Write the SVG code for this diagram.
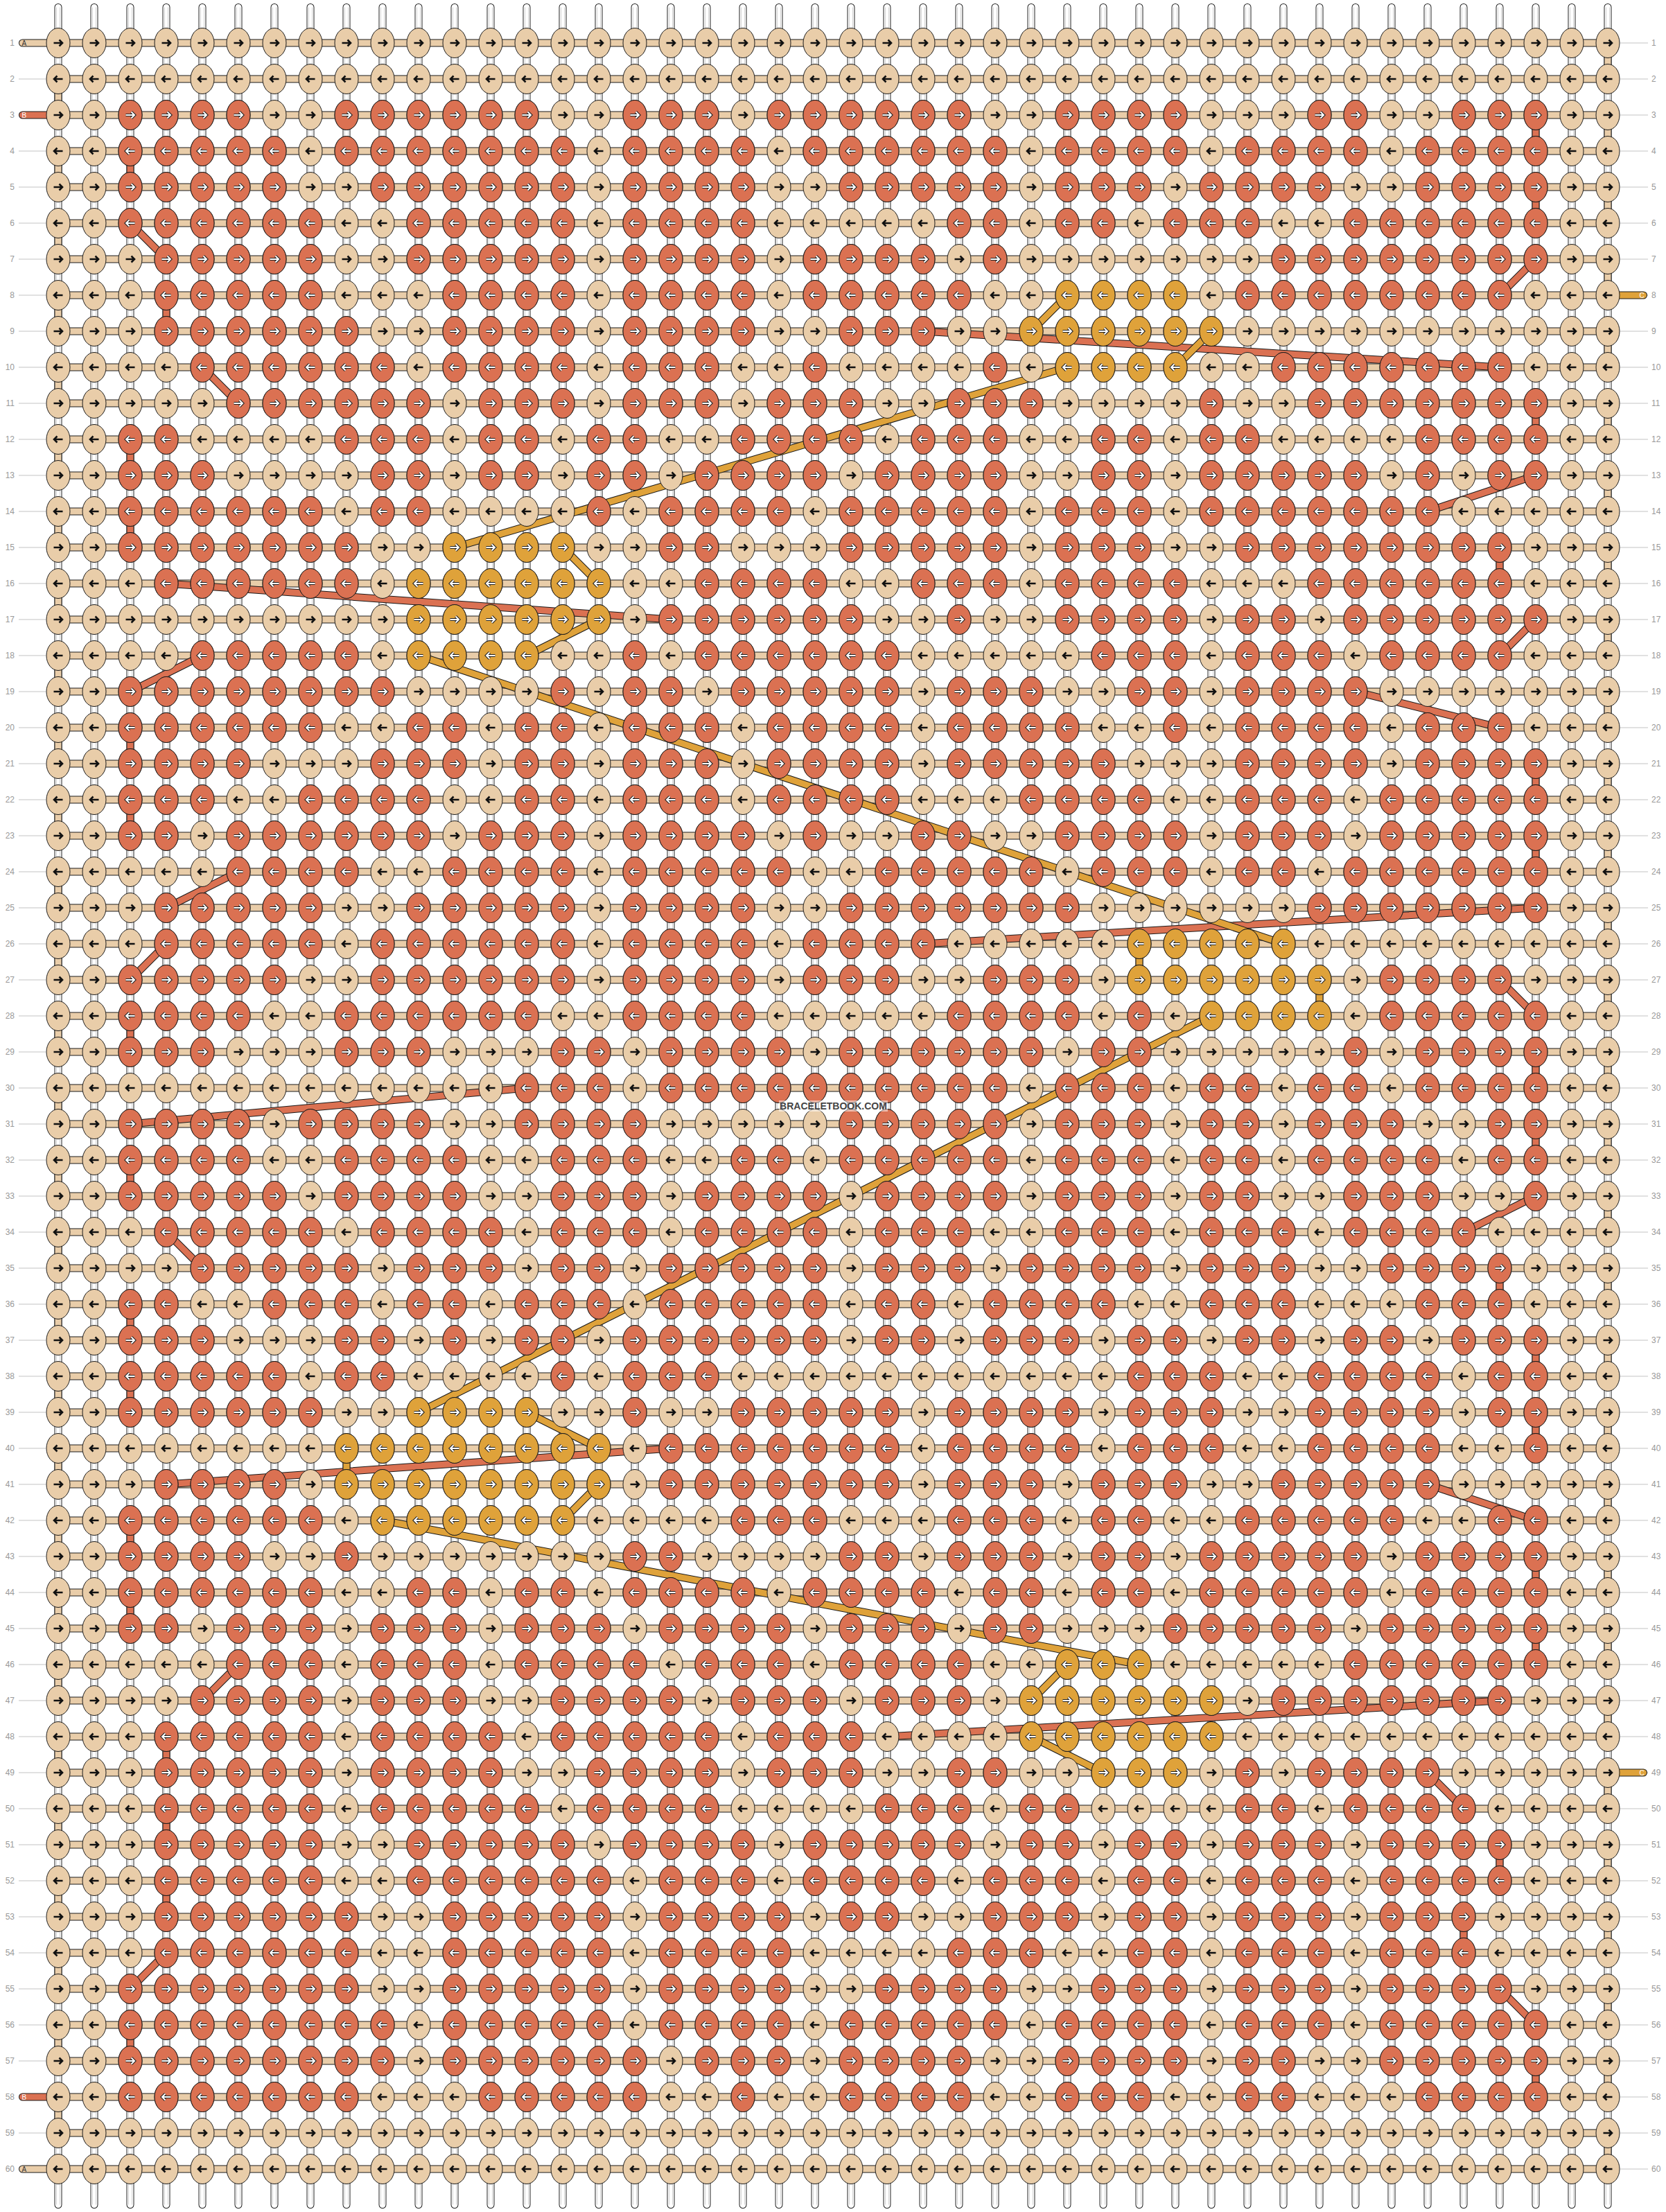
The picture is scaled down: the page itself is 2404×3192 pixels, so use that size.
<svg xmlns="http://www.w3.org/2000/svg" width="2404" height="3192" viewBox="0 0 2404 3192">
<style>
.kb{fill:#E9CDA9;stroke:#1a1a1a;stroke-width:1}
.kr{fill:#DB7152;stroke:#1a1a1a;stroke-width:1}
.ko{fill:#DFA23A;stroke:#1a1a1a;stroke-width:1}
.ad{fill:none;stroke:#111;stroke-width:2.6}
.ao{fill:none;stroke:#222;stroke-width:4.2}
.aw{fill:none;stroke:#fff;stroke-width:2}
.Rr{fill:none;stroke:url(#pRr);stroke-width:1}
.Rl{fill:none;stroke:url(#pRl);stroke-width:1}
.Or{fill:none;stroke:url(#pOr);stroke-width:1}
.Ol{fill:none;stroke:url(#pOl);stroke-width:1}
.out{fill:none;stroke:#1a1a1a;stroke-width:11}
.fb{fill:none;stroke:#E9CDA9;stroke-width:9}
.fr{fill:none;stroke:#DB7152;stroke-width:9}
.fo{fill:none;stroke:#DFA23A;stroke-width:9}
.rc{stroke-linecap:round}
text{font-family:"Liberation Sans",Arial,sans-serif}
.n{font-size:12px;fill:#999}
.nl{text-anchor:end}
.lt{font-size:10px}
</style>
<defs>
<pattern id="pBk" patternUnits="userSpaceOnUse" width="1" height="2" viewBox="0 0 52 104">
<ellipse class="kb" cx="26" cy="26" rx="17" ry="21.5"/>
<path class="ad" d="M19.5 26h12M27.5 21.5l4.5 4.5-4.5 4.5"/>
<ellipse class="kb" cx="26" cy="78" rx="17" ry="21.5"/>
<path class="ad" d="M32.5 78h-12M24.5 73.5l-4.5 4.5 4.5 4.5"/>
</pattern>
<pattern id="pRr" patternUnits="userSpaceOnUse" width="1" height="1" viewBox="0 0 52 52">
<ellipse class="kr" cx="26" cy="26" rx="17" ry="21.5"/>
<path class="ao" d="M19.5 26h12M27.5 21.5l4.5 4.5-4.5 4.5"/>
<path class="aw" d="M19.5 26h12M27.5 21.5l4.5 4.5-4.5 4.5"/>
</pattern>
<pattern id="pRl" patternUnits="userSpaceOnUse" width="1" height="1" viewBox="0 0 52 52">
<ellipse class="kr" cx="26" cy="26" rx="17" ry="21.5"/>
<path class="ao" d="M32.5 26h-12M24.5 21.5l-4.5 4.5 4.5 4.5"/>
<path class="aw" d="M32.5 26h-12M24.5 21.5l-4.5 4.5 4.5 4.5"/>
</pattern>
<pattern id="pOr" patternUnits="userSpaceOnUse" width="1" height="1" viewBox="0 0 52 52">
<ellipse class="ko" cx="26" cy="26" rx="17" ry="21.5"/>
<path class="ao" d="M19.5 26h12M27.5 21.5l4.5 4.5-4.5 4.5"/>
<path class="aw" d="M19.5 26h12M27.5 21.5l4.5 4.5-4.5 4.5"/>
</pattern>
<pattern id="pOl" patternUnits="userSpaceOnUse" width="1" height="1" viewBox="0 0 52 52">
<ellipse class="ko" cx="26" cy="26" rx="17" ry="21.5"/>
<path class="ao" d="M32.5 26h-12M24.5 21.5l-4.5 4.5 4.5 4.5"/>
<path class="aw" d="M32.5 26h-12M24.5 21.5l-4.5 4.5 4.5 4.5"/>
</pattern>
<pattern id="pb" patternUnits="userSpaceOnUse" x="0" y="36" width="52" height="52">
<rect y="20.5" width="52" height="11" fill="#1a1a1a"/>
<rect y="21.5" width="52" height="9" fill="#E9CDA9"/>
</pattern>
<pattern id="pg" patternUnits="userSpaceOnUse" x="0" y="36" width="100" height="52">
<rect y="25.5" width="100" height="1" fill="#c4c4c4"/>
</pattern>
<path id="wp" d="M84 10.5V3181.5m52-3171V3181.5m52-3171V3181.5m52-3171V3181.5m52-3171V3181.5m52-3171V3181.5m52-3171V3181.5m52-3171V3181.5m52-3171V3181.5m52-3171V3181.5m52-3171V3181.5m52-3171V3181.5m52-3171V3181.5m52-3171V3181.5m52-3171V3181.5m52-3171V3181.5m52-3171V3181.5m52-3171V3181.5m52-3171V3181.5m52-3171V3181.5m52-3171V3181.5m52-3171V3181.5m52-3171V3181.5m52-3171V3181.5m52-3171V3181.5m52-3171V3181.5m52-3171V3181.5m52-3171V3181.5m52-3171V3181.5m52-3171V3181.5m52-3171V3181.5m52-3171V3181.5m52-3171V3181.5m52-3171V3181.5m52-3171V3181.5m52-3171V3181.5m52-3171V3181.5m52-3171V3181.5m52-3171V3181.5m52-3171V3181.5m52-3171V3181.5m52-3171V3181.5m52-3171V3181.5m52-3171V3181.5"/>
<path id="ta" d="M84 114V3078M2320 62V3130" stroke-dasharray="52 52"/>
<path id="cR" d="M188 218V270M188 322L240 374M240 426V478M292 530L344 582M188 634V686M188 738V790M240 842L968 894M292 946L188 998M188 1050V1102M188 1154V1206M344 1258L240 1310M240 1362L188 1414M188 1466V1518M760 1570L188 1622M188 1674V1726M240 1778L292 1830M188 1882V1934M188 1986V2038M968 2090L240 2142M188 2194V2246M188 2298V2350M344 2402L292 2454M240 2506V2558M240 2610V2662M240 2714V2766M240 2818L188 2870M188 2922V2974M2216 166V218M2216 270V322M2216 374L2164 426M1332 478L2164 530M2216 582V634M2216 686L2060 738M2164 790V842M2216 894L2164 946M1956 998L2164 1050M2216 1102V1154M2216 1206V1258M2216 1310L1332 1362M2164 1414L2216 1466M2216 1518V1570M2216 1622V1674M2216 1726L2112 1778M2164 1830V1882M2216 1934V1986M2216 2038V2090M2060 2142L2216 2194M2216 2246V2298M2216 2350V2402M2164 2454L1280 2506M2060 2558L2112 2610M2164 2662V2714M2112 2766V2818M2164 2870L2216 2922M2216 2974V3026"/>
<path id="cO" d="M1488 478L1540 426M1748 478L1696 530M1540 530L656 790M812 790L864 842M864 894L760 946M604 946L1852 1362M1644 1362V1414M1904 1414V1466M1748 1466L604 2038M760 2038L864 2090M864 2142L812 2194M500 2090V2142M552 2194L1644 2402M1488 2454L1540 2402M1488 2506L1592 2558"/>
<path id="sA" d="M84 62H32.5M84 3130H32.5"/>
<path id="sB" d="M84 166H32.5M84 3026H32.5"/>
<path id="sC" d="M2320 426H2371.5M2320 2558H2371.5"/>
</defs>
<rect width="2404" height="3192" fill="#fff"/>
<g id="label-lines">
<rect x="27" y="36" width="39" height="3120" fill="url(#pg)"/>
<rect x="2338" y="36" width="40" height="3120" fill="url(#pg)"/>
</g>
<g id="warp-strings">
<use href="#wp" stroke="#222" stroke-width="11" stroke-linecap="round"/>
<use href="#wp" stroke="#fff" stroke-width="9" stroke-linecap="round"/>
<use href="#wp" x="-2.5" stroke="#d2d2d2" stroke-width="1"/>
<use href="#wp" x="2.5" stroke="#d2d2d2" stroke-width="1"/>
</g>
<g id="connectors">
<rect id="row-strings" x="84" y="36" width="2236" height="3120" fill="url(#pb)"/>
<use href="#ta" class="out"/>
<use href="#ta" class="fb"/>
<use href="#sA" class="out rc"/>
<use href="#sA" class="fb rc"/>
<use href="#sB" class="out rc"/>
<use href="#sB" class="fr rc"/>
<use href="#sC" class="out rc"/>
<use href="#sC" class="fo rc"/>
<use href="#cR" class="out"/>
<use href="#cR" class="fr"/>
<use href="#cO" class="out"/>
<use href="#cO" class="fo"/>
</g>
<g id="knots" transform="matrix(52 0 0 52 58 36)">
<rect width="44" height="60" fill="url(#pBk)"/>
<g id="row-3"><path class="Rr" d="M2 2.5h4M8 2.5h6M16 2.5h3M20 2.5h6M28 2.5h4M35 2.5h2M39 2.5h3"/></g>
<g id="row-4"><path class="Rl" d="M2 3.5h5M8 3.5h7M16 3.5h4M21 3.5h6M28 3.5h4M33 3.5h4M38 3.5h4"/></g>
<g id="row-5"><path class="Rr" d="M2 4.5h5M9 4.5h6M16 4.5h4M22 4.5h5M28 4.5h3M32 4.5h4M38 4.5h4"/></g>
<g id="row-6"><path class="Rl" d="M2 5.5h6M10 5.5h5M16 5.5h4M25 5.5h2M28 5.5h2M31 5.5h3M36 5.5h6"/></g>
<g id="row-7"><path class="Rr" d="M3 6.5h5M10 6.5h5M16 6.5h4M21 6.5h4M26 6.5h1M34 6.5h8"/></g>
<g id="row-8"><path class="Rl" d="M3 7.5h5M11 7.5h4M16 7.5h4M21 7.5h5M33 7.5h8"/><path class="Ol" d="M28 7.5h4"/></g>
<g id="row-9"><path class="Rr" d="M3 8.5h6M11 8.5h4M16 8.5h4M22 8.5h3"/><path class="Or" d="M27 8.5h6"/></g>
<g id="row-10"><path class="Rl" d="M4 9.5h6M11 9.5h4M16 9.5h3M21 9.5h1M26 9.5h1M34 9.5h7"/><path class="Ol" d="M28 9.5h4"/></g>
<g id="row-11"><path class="Rr" d="M5 10.5h6M12 10.5h3M16 10.5h3M20 10.5h3M25 10.5h3M32 10.5h1M35 10.5h7"/></g>
<g id="row-12"><path class="Rl" d="M2 11.5h2M8 11.5h3M12 11.5h2M15 11.5h2M19 11.5h4M24 11.5h3M29 11.5h2M32 11.5h2M38 11.5h4"/></g>
<g id="row-13"><path class="Rr" d="M2 12.5h3M9 12.5h2M12 12.5h2M15 12.5h2M18 12.5h4M23 12.5h4M29 12.5h2M32 12.5h5M38 12.5h1M40 12.5h2"/></g>
<g id="row-14"><path class="Rl" d="M2 13.5h6M9 13.5h2M15 13.5h1M17 13.5h4M22 13.5h5M28 13.5h3M32 13.5h7"/></g>
<g id="row-15"><path class="Rr" d="M2 14.5h7M17 14.5h2M22 14.5h5M28 14.5h3M33 14.5h8"/><path class="Or" d="M11 14.5h4"/></g>
<g id="row-16"><path class="Rl" d="M3 15.5h6M18 15.5h4M24 15.5h3M28 15.5h4M35 15.5h6"/><path class="Ol" d="M10 15.5h6"/></g>
<g id="row-17"><path class="Rr" d="M17 16.5h6M25 16.5h1M28 16.5h4M33 16.5h2M36 16.5h6"/><path class="Or" d="M10 16.5h6"/></g>
<g id="row-18"><path class="Rl" d="M4 17.5h5M16 17.5h1M18 17.5h6M29 17.5h3M33 17.5h3M37 17.5h4"/><path class="Ol" d="M10 17.5h4"/></g>
<g id="row-19"><path class="Rr" d="M2 18.5h8M14 18.5h1M16 18.5h2M19 18.5h5M25 18.5h3M30 18.5h2M33 18.5h4"/></g>
<g id="row-20"><path class="Rl" d="M2 19.5h6M10 19.5h2M13 19.5h2M16 19.5h3M20 19.5h4M25 19.5h4M31 19.5h1M33 19.5h4M38 19.5h3"/></g>
<g id="row-21"><path class="Rr" d="M2 20.5h4M9 20.5h3M13 20.5h2M16 20.5h3M20 20.5h4M25 20.5h5M33 20.5h4M38 20.5h4"/></g>
<g id="row-22"><path class="Rl" d="M2 21.5h3M7 21.5h4M13 21.5h2M16 21.5h3M20 21.5h4M27 21.5h4M33 21.5h3M37 21.5h5"/></g>
<g id="row-23"><path class="Rr" d="M2 22.5h2M5 22.5h6M12 22.5h3M16 22.5h4M21 22.5h1M24 22.5h2M28 22.5h4M33 22.5h3M37 22.5h5"/></g>
<g id="row-24"><path class="Rl" d="M5 23.5h4M11 23.5h4M16 23.5h5M23 23.5h5M29 23.5h3M33 23.5h2M36 23.5h6"/></g>
<g id="row-25"><path class="Rr" d="M3 24.5h5M10 24.5h5M16 24.5h4M22 24.5h7M35 24.5h7"/></g>
<g id="row-26"><path class="Rl" d="M3 25.5h5M9 25.5h6M16 25.5h4M21 25.5h4"/><path class="Ol" d="M30 25.5h5"/></g>
<g id="row-27"><path class="Rr" d="M2 26.5h5M9 26.5h6M16 26.5h4M21 26.5h3M26 26.5h3M37 26.5h4"/><path class="Or" d="M30 26.5h6"/></g>
<g id="row-28"><path class="Rl" d="M2 27.5h4M8 27.5h6M16 27.5h4M25 27.5h4M30 27.5h1M37 27.5h5"/><path class="Ol" d="M32 27.5h4"/></g>
<g id="row-29"><path class="Rr" d="M2 28.5h3M8 28.5h3M14 28.5h2M17 28.5h4M22 28.5h6M29 28.5h2M36 28.5h1M38 28.5h4"/></g>
<g id="row-30"><path class="Rl" d="M13 29.5h3M17 29.5h10M28 29.5h3M32 29.5h2M35 29.5h2M38 29.5h4"/></g>
<g id="row-31"><path class="Rr" d="M2 30.5h4M7 30.5h4M13 30.5h4M22 30.5h5M28 30.5h3M32 30.5h2M35 30.5h3M40 30.5h2"/></g>
<g id="row-32"><path class="Rl" d="M2 31.5h4M8 31.5h4M14 31.5h3M19 31.5h2M22 31.5h5M28 31.5h3M32 31.5h2M35 31.5h4M40 31.5h2"/></g>
<g id="row-33"><path class="Rr" d="M2 32.5h5M8 32.5h4M14 32.5h3M18 32.5h4M23 32.5h4M28 32.5h3M32 32.5h2M36 32.5h3M41 32.5h1"/></g>
<g id="row-34"><path class="Rl" d="M3 33.5h5M9 33.5h4M14 33.5h3M18 33.5h4M23 33.5h3M28 33.5h3M32 33.5h3M36 33.5h4"/></g>
<g id="row-35"><path class="Rr" d="M4 34.5h5M10 34.5h3M14 34.5h2M17 34.5h5M23 34.5h3M27 34.5h4M32 34.5h3M37 34.5h4"/></g>
<g id="row-36"><path class="Rl" d="M2 35.5h2M6 35.5h3M10 35.5h2M13 35.5h3M17 35.5h5M23 35.5h2M26 35.5h4M32 35.5h3M38 35.5h3"/></g>
<g id="row-37"><path class="Rr" d="M2 36.5h3M8 36.5h2M11 36.5h1M13 36.5h2M16 36.5h6M23 36.5h2M26 36.5h3M30 36.5h2M33 36.5h2M36 36.5h2M39 36.5h3"/></g>
<g id="row-38"><path class="Rl" d="M2 37.5h5M8 37.5h2M14 37.5h1M16 37.5h3M30 37.5h3M35 37.5h4M40 37.5h2"/></g>
<g id="row-39"><path class="Rr" d="M2 38.5h6M16 38.5h1M19 38.5h5M25 38.5h4M30 38.5h3M35 38.5h4M40 38.5h2"/><path class="Or" d="M10 38.5h4"/></g>
<g id="row-40"><path class="Rl" d="M17 39.5h7M25 39.5h4M30 39.5h3M35 39.5h4M41 39.5h1"/><path class="Ol" d="M8 39.5h8"/></g>
<g id="row-41"><path class="Rr" d="M3 40.5h4M17 40.5h7M25 40.5h3M29 40.5h3M34 40.5h5"/><path class="Or" d="M8 40.5h8"/></g>
<g id="row-42"><path class="Rl" d="M2 41.5h6M19 41.5h3M25 41.5h3M29 41.5h2M33 41.5h5M40 41.5h2"/><path class="Ol" d="M9 41.5h6"/></g>
<g id="row-43"><path class="Rr" d="M2 42.5h4M8 42.5h1M16 42.5h2M22 42.5h2M25 42.5h3M29 42.5h2M32 42.5h5M38 42.5h4"/></g>
<g id="row-44"><path class="Rl" d="M2 43.5h6M10 43.5h2M13 43.5h2M16 43.5h4M21 43.5h4M26 43.5h2M29 43.5h2M32 43.5h5M38 43.5h4"/></g>
<g id="row-45"><path class="Rr" d="M2 44.5h2M5 44.5h3M9 44.5h3M13 44.5h3M17 44.5h4M22 44.5h3M26 44.5h2M31 44.5h5M37 44.5h5"/></g>
<g id="row-46"><path class="Rl" d="M5 45.5h3M9 45.5h3M13 45.5h4M18 45.5h3M22 45.5h4M36 45.5h6"/><path class="Ol" d="M28 45.5h3"/></g>
<g id="row-47"><path class="Rr" d="M4 46.5h4M9 46.5h3M14 46.5h4M19 46.5h3M23 46.5h3M34 46.5h7"/><path class="Or" d="M27 46.5h6"/></g>
<g id="row-48"><path class="Rl" d="M3 47.5h5M9 47.5h4M14 47.5h5M20 47.5h3"/><path class="Ol" d="M27 47.5h6"/></g>
<g id="row-49"><path class="Rr" d="M3 48.5h5M9 48.5h4M15 48.5h4M20 48.5h3M25 48.5h2M33 48.5h1M35 48.5h4"/><path class="Or" d="M29 48.5h3"/></g>
<g id="row-50"><path class="Rl" d="M3 49.5h5M9 49.5h5M15 49.5h4M23 49.5h3M27 49.5h2M33 49.5h2M36 49.5h4"/></g>
<g id="row-51"><path class="Rr" d="M3 50.5h5M10 50.5h5M16 50.5h4M21 50.5h5M27 50.5h2M30 50.5h2M33 50.5h3M37 50.5h4"/></g>
<g id="row-52"><path class="Rl" d="M3 51.5h5M10 51.5h6M17 51.5h3M21 51.5h4M26 51.5h3M30 51.5h2M33 51.5h3M37 51.5h4"/></g>
<g id="row-53"><path class="Rr" d="M3 52.5h6M11 52.5h5M17 52.5h4M22 52.5h2M26 52.5h3M30 52.5h2M33 52.5h3M37 52.5h3"/></g>
<g id="row-54"><path class="Rl" d="M3 53.5h6M11 53.5h5M17 53.5h4M25 53.5h3M30 53.5h2M33 53.5h3M37 53.5h3"/></g>
<g id="row-55"><path class="Rr" d="M2 54.5h7M11 54.5h5M17 54.5h4M23 54.5h4M29 54.5h3M33 54.5h3M37 54.5h4"/></g>
<g id="row-56"><path class="Rl" d="M2 55.5h8M11 55.5h5M17 55.5h4M22 55.5h5M28 55.5h4M33 55.5h3M37 55.5h5"/></g>
<g id="row-57"><path class="Rr" d="M2 56.5h8M11 56.5h6M18 56.5h3M22 56.5h4M28 56.5h4M33 56.5h2M37 56.5h5"/></g>
<g id="row-58"><path class="Rl" d="M2 57.5h7M12 57.5h5M19 57.5h1M22 57.5h4M28 57.5h3M33 57.5h2M38 57.5h4"/></g>
</g>
<g id="string-letters" class="lt">
<text x="31.5" y="65.6" fill="#333">A</text>
<text x="31.5" y="3133.6" fill="#333">A</text>
<text x="31.5" y="169.6" fill="#fff">B</text>
<text x="31.5" y="3029.6" fill="#fff">B</text>
<text x="2365.5" y="429.6" fill="#fff">C</text>
<text x="2365.5" y="2561.6" fill="#fff">C</text>
</g>
<g id="row-numbers-left" class="n nl">
<text x="21" y="66">1</text><text x="21" y="118">2</text><text x="21" y="170">3</text><text x="21" y="222">4</text><text x="21" y="274">5</text><text x="21" y="326">6</text><text x="21" y="378">7</text><text x="21" y="430">8</text><text x="21" y="482">9</text><text x="21" y="534">10</text><text x="21" y="586">11</text><text x="21" y="638">12</text><text x="21" y="690">13</text><text x="21" y="742">14</text><text x="21" y="794">15</text><text x="21" y="846">16</text><text x="21" y="898">17</text><text x="21" y="950">18</text><text x="21" y="1002">19</text><text x="21" y="1054">20</text><text x="21" y="1106">21</text><text x="21" y="1158">22</text><text x="21" y="1210">23</text><text x="21" y="1262">24</text><text x="21" y="1314">25</text><text x="21" y="1366">26</text><text x="21" y="1418">27</text><text x="21" y="1470">28</text><text x="21" y="1522">29</text><text x="21" y="1574">30</text><text x="21" y="1626">31</text><text x="21" y="1678">32</text><text x="21" y="1730">33</text><text x="21" y="1782">34</text><text x="21" y="1834">35</text><text x="21" y="1886">36</text><text x="21" y="1938">37</text><text x="21" y="1990">38</text><text x="21" y="2042">39</text><text x="21" y="2094">40</text><text x="21" y="2146">41</text><text x="21" y="2198">42</text><text x="21" y="2250">43</text><text x="21" y="2302">44</text><text x="21" y="2354">45</text><text x="21" y="2406">46</text><text x="21" y="2458">47</text><text x="21" y="2510">48</text><text x="21" y="2562">49</text><text x="21" y="2614">50</text><text x="21" y="2666">51</text><text x="21" y="2718">52</text><text x="21" y="2770">53</text><text x="21" y="2822">54</text><text x="21" y="2874">55</text><text x="21" y="2926">56</text><text x="21" y="2978">57</text><text x="21" y="3030">58</text><text x="21" y="3082">59</text><text x="21" y="3134">60</text>
</g>
<g id="row-numbers-right" class="n">
<text x="2383" y="66">1</text><text x="2383" y="118">2</text><text x="2383" y="170">3</text><text x="2383" y="222">4</text><text x="2383" y="274">5</text><text x="2383" y="326">6</text><text x="2383" y="378">7</text><text x="2383" y="430">8</text><text x="2383" y="482">9</text><text x="2383" y="534">10</text><text x="2383" y="586">11</text><text x="2383" y="638">12</text><text x="2383" y="690">13</text><text x="2383" y="742">14</text><text x="2383" y="794">15</text><text x="2383" y="846">16</text><text x="2383" y="898">17</text><text x="2383" y="950">18</text><text x="2383" y="1002">19</text><text x="2383" y="1054">20</text><text x="2383" y="1106">21</text><text x="2383" y="1158">22</text><text x="2383" y="1210">23</text><text x="2383" y="1262">24</text><text x="2383" y="1314">25</text><text x="2383" y="1366">26</text><text x="2383" y="1418">27</text><text x="2383" y="1470">28</text><text x="2383" y="1522">29</text><text x="2383" y="1574">30</text><text x="2383" y="1626">31</text><text x="2383" y="1678">32</text><text x="2383" y="1730">33</text><text x="2383" y="1782">34</text><text x="2383" y="1834">35</text><text x="2383" y="1886">36</text><text x="2383" y="1938">37</text><text x="2383" y="1990">38</text><text x="2383" y="2042">39</text><text x="2383" y="2094">40</text><text x="2383" y="2146">41</text><text x="2383" y="2198">42</text><text x="2383" y="2250">43</text><text x="2383" y="2302">44</text><text x="2383" y="2354">45</text><text x="2383" y="2406">46</text><text x="2383" y="2458">47</text><text x="2383" y="2510">48</text><text x="2383" y="2562">49</text><text x="2383" y="2614">50</text><text x="2383" y="2666">51</text><text x="2383" y="2718">52</text><text x="2383" y="2770">53</text><text x="2383" y="2822">54</text><text x="2383" y="2874">55</text><text x="2383" y="2926">56</text><text x="2383" y="2978">57</text><text x="2383" y="3030">58</text><text x="2383" y="3082">59</text><text x="2383" y="3134">60</text>
</g>
<g id="watermark">
<rect x="1124" y="1588" width="157" height="16" fill="#fff" fill-opacity="0.5"/>
<text x="1202.5" y="1601" text-anchor="middle" font-size="14" font-weight="bold" fill="#444">BRACELETBOOK.COM</text>
</g>
</svg>
